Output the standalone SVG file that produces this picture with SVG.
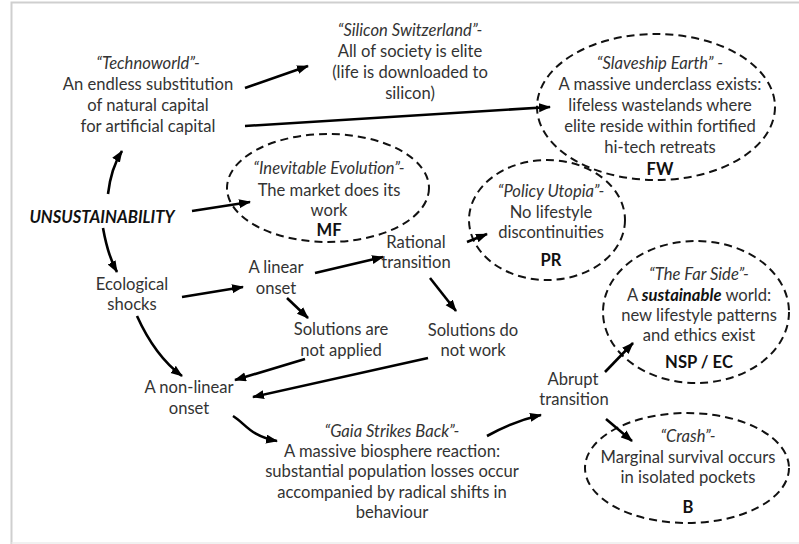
<svg xmlns="http://www.w3.org/2000/svg" width="799" height="544" viewBox="0 0 799 544">
  <style>
    text { font-family: Lato, "Open Sans", "Liberation Sans", sans-serif; font-size: 16.6px; fill: #333; text-anchor: middle; }
    .it { font-style: italic; }
    .b { font-weight: bold; fill: #111; }
    .oval { fill: none; stroke: #111; stroke-width: 2; stroke-dasharray: 8 5; }
    .arrow { fill: none; stroke: #000; stroke-width: 2.6; marker-end: url(#head); }
  </style>
  <defs>
    <marker id="head" markerUnits="userSpaceOnUse" markerWidth="13" markerHeight="10" refX="11" refY="4.5" orient="auto">
      <path d="M0,0 L12,4.5 L0,9 Z" fill="#000"/>
    </marker>
  </defs>

  <rect x="0" y="0" width="799" height="544" fill="#fff"/>
  <!-- frame -->
  <path d="M11.5,544 V2.5 H799" fill="none" stroke="#cfcfcf" stroke-width="2"/>
  <path d="M11.5,543 H799" fill="none" stroke="#ececec" stroke-width="1.5"/>

  <g id="technoworld">
    <text x="148" y="69" class="it">“Technoworld”-</text>
    <text x="148" y="90">An endless substitution</text>
    <text x="148" y="111">of natural capital</text>
    <text x="148" y="132">for artificial capital</text>
  </g>

  <g id="silicon-switzerland">
    <text x="410" y="36" class="it">“Silicon Switzerland”-</text>
    <text x="410" y="57">All of society is elite</text>
    <text x="410" y="78">(life is downloaded to</text>
    <text x="410" y="99">silicon)</text>
  </g>

  <g id="slaveship-earth">
    <ellipse class="oval" cx="656" cy="107" rx="119" ry="73"/>
    <text x="660" y="69" class="it">“Slaveship Earth” -</text>
    <text x="660" y="90">A massive underclass exists:</text>
    <text x="660" y="111">lifeless wastelands where</text>
    <text x="660" y="132">elite reside within fortified</text>
    <text x="660" y="153">hi-tech retreats</text>
    <text x="660" y="175" class="b">FW</text>
  </g>

  <g id="inevitable-evolution">
    <ellipse class="oval" cx="328" cy="188" rx="101" ry="54"/>
    <text x="329" y="174" class="it">“Inevitable Evolution”-</text>
    <text x="329" y="196">The market does its</text>
    <text x="329" y="216">work</text>
    <text x="329" y="236" class="b">MF</text>
  </g>

  <g id="unsustainability">
    <text x="102" y="223" class="it b">UNSUSTAINABILITY</text>
  </g>

  <g id="ecological-shocks">
    <text x="132" y="290">Ecological</text>
    <text x="132" y="310">shocks</text>
  </g>

  <g id="linear-onset">
    <text x="276" y="273">A linear</text>
    <text x="276" y="294">onset</text>
  </g>

  <g id="rational-transition">
    <text x="416" y="248">Rational</text>
    <text x="416" y="268">transition</text>
  </g>

  <g id="policy-utopia">
    <ellipse class="oval" cx="547" cy="220" rx="78" ry="60"/>
    <text x="551" y="197" class="it">“Policy Utopia”-</text>
    <text x="551" y="218">No lifestyle</text>
    <text x="551" y="238">discontinuities</text>
    <text x="551" y="266" class="b">PR</text>
  </g>

  <g id="solutions-not-applied">
    <text x="341" y="335">Solutions are</text>
    <text x="341" y="356">not applied</text>
  </g>

  <g id="solutions-do-not-work">
    <text x="473" y="336">Solutions do</text>
    <text x="473" y="356">not work</text>
  </g>

  <g id="far-side">
    <ellipse class="oval" cx="696" cy="312" rx="93" ry="71"/>
    <text x="699" y="280" class="it">“The Far Side”-</text>
    <text x="699" y="301">A <tspan class="it b">sustainable</tspan> world:</text>
    <text x="699" y="321">new lifestyle patterns</text>
    <text x="699" y="341">and ethics exist</text>
    <text x="699" y="368" class="b">NSP / EC</text>
  </g>

  <g id="nonlinear-onset">
    <text x="189" y="393">A non-linear</text>
    <text x="189" y="414">onset</text>
  </g>

  <g id="abrupt-transition">
    <text x="573" y="385">Abrupt</text>
    <text x="574" y="405">transition</text>
  </g>

  <g id="gaia-strikes-back">
    <text x="392" y="437" class="it">“Gaia Strikes Back”-</text>
    <text x="392" y="457">A massive biosphere reaction:</text>
    <text x="392" y="477">substantial population losses occur</text>
    <text x="392" y="498">accompanied by radical shifts in</text>
    <text x="392" y="518">behaviour</text>
  </g>

  <g id="crash">
    <ellipse class="oval" cx="687" cy="468" rx="102" ry="55"/>
    <text x="688" y="442" class="it">“Crash”-</text>
    <text x="688" y="463">Marginal survival occurs</text>
    <text x="688" y="483">in isolated pockets</text>
    <text x="688" y="513" class="b">B</text>
  </g>

  <g id="connectors">
    <path class="arrow" d="M245,88 L308,66"/>
    <path class="arrow" d="M245,126 L550,107"/>
    <path class="arrow" d="M108,194 Q111,168 122,151"/>
    <path class="arrow" d="M192,211 L250,202"/>
    <path class="arrow" d="M103,228 Q108,256 117,272"/>
    <path class="arrow" d="M182,297 L243,287"/>
    <path class="arrow" d="M315,273 L383,257"/>
    <path class="arrow" d="M287,298 L308,318"/>
    <path class="arrow" d="M137,316 Q155,356 182,376"/>
    <path class="arrow" d="M305,359 L235,380"/>
    <path class="arrow" d="M428,358 L253,397"/>
    <path class="arrow" d="M467,242 L487,234"/>
    <path class="arrow" d="M430,278 L456,311"/>
    <path class="arrow" d="M233,416 C246,424 250,436 277,441"/>
    <path class="arrow" d="M487,436 Q514,421 541,415"/>
    <path class="arrow" d="M605,372 L633,343"/>
    <path class="arrow" d="M606,419 L632,441"/>
  </g>
</svg>
